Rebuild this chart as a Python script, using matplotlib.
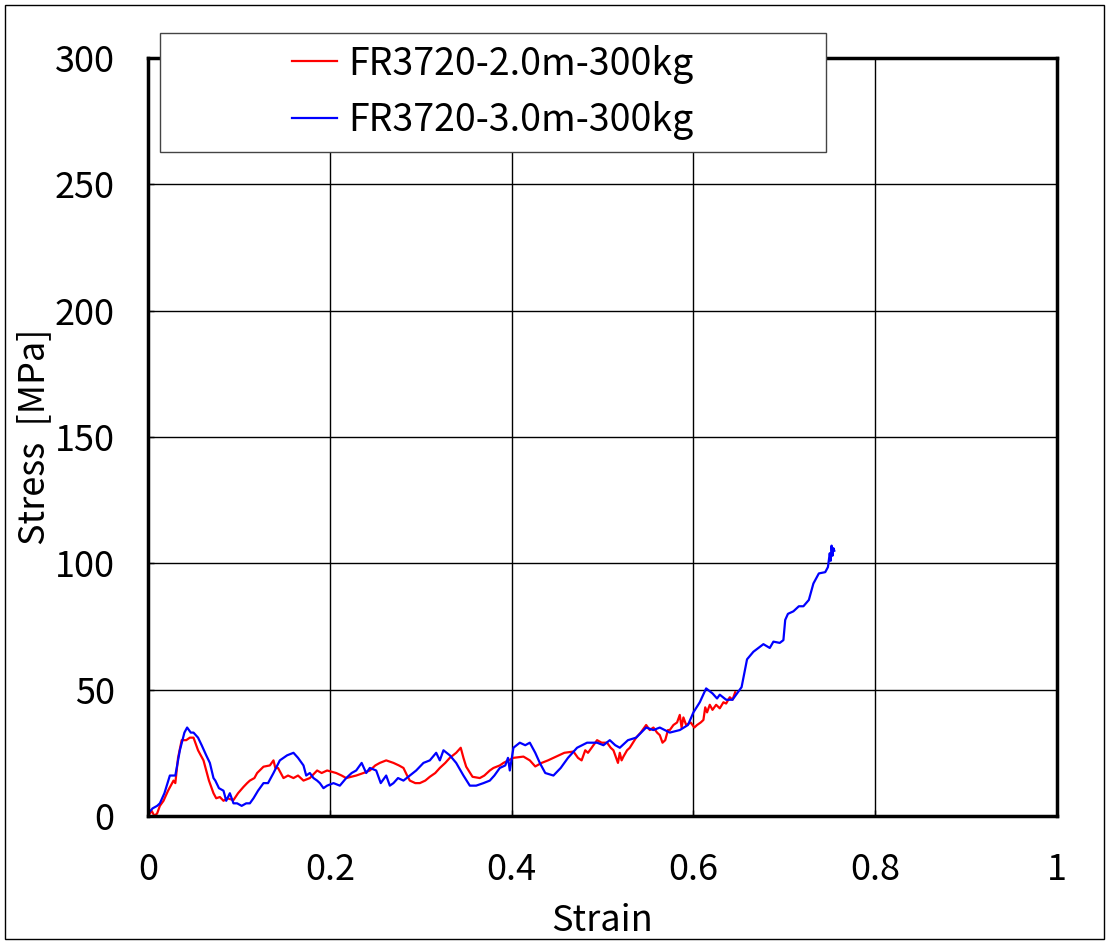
import matplotlib
matplotlib.use("Agg")
import matplotlib.pyplot as plt
from matplotlib.patches import Rectangle

plt.rcParams['font.family'] = ['Noto Sans CJK JP', 'DejaVu Sans']

# stress-strain curves
red_label = 'FR3720-2.0m-300kg'
red_strain = [0.000, 0.004, 0.007, 0.010, 0.013, 0.017, 0.022, 0.028, 0.030, 0.033,
              0.037, 0.042, 0.046, 0.050, 0.055, 0.061, 0.067, 0.072, 0.075, 0.079,
              0.083, 0.087, 0.094, 0.099, 0.105, 0.109, 0.112, 0.117, 0.120, 0.127,
              0.134, 0.138, 0.140, 0.143, 0.149, 0.154, 0.160, 0.165, 0.171, 0.178,
              0.186, 0.191, 0.197, 0.207, 0.213, 0.218, 0.229, 0.237, 0.244, 0.250,
              0.255, 0.262, 0.270, 0.276, 0.281, 0.285, 0.288, 0.294, 0.299, 0.305,
              0.310, 0.316, 0.321, 0.327, 0.332, 0.339, 0.344, 0.347, 0.350, 0.357,
              0.365, 0.370, 0.376, 0.380, 0.387, 0.391, 0.402, 0.413, 0.420, 0.426,
              0.433, 0.440, 0.449, 0.458, 0.468, 0.473, 0.477, 0.481, 0.484, 0.490,
              0.494, 0.499, 0.505, 0.509, 0.512, 0.515, 0.517, 0.519, 0.521, 0.523,
              0.527, 0.530, 0.537, 0.542, 0.548, 0.552, 0.556, 0.560, 0.563, 0.566,
              0.569, 0.572, 0.574, 0.578, 0.582, 0.585, 0.587, 0.589, 0.592, 0.597,
              0.601, 0.604, 0.608, 0.611, 0.613, 0.615, 0.618, 0.621, 0.625, 0.629,
              0.633, 0.636, 0.640, 0.643, 0.646]
red_stress = [0, 2, 0, 1, 4, 6, 10, 14, 13, 23,
              30, 30, 31, 31, 26, 22, 14, 9, 7, 7.5,
              6, 7, 6.3, 9, 11.5, 13, 14, 15, 17, 19.5,
              20, 22, 19, 19, 15, 16, 15, 16, 14, 15,
              18, 17, 18, 17, 16, 15, 16, 17, 18, 20,
              21, 22, 21, 20, 19, 16, 14, 13, 13, 14,
              15.5, 17, 19, 21, 23, 25, 27, 23, 19.5, 15.5,
              15, 16, 18, 19, 20, 21, 23, 23.5, 22, 19.6,
              21, 22, 23.5, 25, 25.5, 23, 22, 26, 25, 28,
              30, 29, 29, 27, 26, 23, 21, 25, 22, 23.5,
              26, 27, 31, 33, 36, 34, 35, 33, 32, 29,
              30, 34, 34, 36, 37, 40, 35, 39, 36, 37,
              35, 36, 37, 38, 43, 41, 44, 42, 44, 42.6,
              45, 44.5, 47, 46, 49]

blue_label = 'FR3720-3.0m-300kg'
blue_strain = [0.000, 0.005, 0.010, 0.013, 0.018, 0.024, 0.030, 0.035, 0.040, 0.043,
               0.047, 0.050, 0.055, 0.059, 0.064, 0.068, 0.072, 0.074, 0.078, 0.083,
               0.086, 0.090, 0.094, 0.098, 0.103, 0.108, 0.112, 0.116, 0.121, 0.127,
               0.132, 0.138, 0.145, 0.153, 0.160, 0.165, 0.171, 0.174, 0.178, 0.182,
               0.186, 0.189, 0.193, 0.197, 0.204, 0.211, 0.218, 0.224, 0.229, 0.235,
               0.240, 0.244, 0.251, 0.256, 0.262, 0.266, 0.270, 0.275, 0.281, 0.288,
               0.295, 0.303, 0.310, 0.317, 0.321, 0.325, 0.332, 0.339, 0.347, 0.354,
               0.361, 0.369, 0.376, 0.381, 0.387, 0.393, 0.396, 0.398, 0.402, 0.409,
               0.415, 0.420, 0.426, 0.431, 0.437, 0.446, 0.454, 0.462, 0.472, 0.483,
               0.494, 0.501, 0.508, 0.514, 0.519, 0.528, 0.537, 0.548, 0.556, 0.563,
               0.574, 0.585, 0.594, 0.600, 0.607, 0.614, 0.621, 0.626, 0.629, 0.636,
               0.643, 0.647, 0.653, 0.659, 0.666, 0.677, 0.684, 0.688, 0.695, 0.699,
               0.701, 0.704, 0.710, 0.716, 0.721, 0.727, 0.732, 0.738, 0.745, 0.748,
               0.750, 0.751, 0.752, 0.753, 0.754, 0.755]
blue_stress = [1, 3, 4, 5, 9, 16, 16, 26, 33, 35,
               33, 33, 31, 28, 24, 21, 15, 14, 11, 10,
               6, 9, 5, 5, 4, 5, 5, 7, 10, 13,
               13, 17, 22, 24, 25, 23, 20, 16, 17, 15,
               14, 13, 11, 12, 13, 12, 15, 17, 18, 21,
               17, 19, 18, 13, 16, 12, 13, 15, 14, 16,
               18, 21, 22, 25, 22, 26, 24, 21, 16, 12,
               12, 13, 14, 16, 19, 20, 23, 18, 27, 29,
               28, 29, 25, 21, 17, 16, 19, 23, 27, 29,
               29, 28, 30, 28, 27, 30, 31, 35, 34, 35,
               33, 34, 36, 41, 45, 50.5, 48.5, 46.5, 48, 46,
               46, 48, 51, 62, 65, 68, 66.5, 69, 68.5, 69.6,
               77.6, 80, 81, 83, 83, 85.5, 92, 96, 96.5, 98.5,
               104, 101, 107, 103, 106, 105]

x_ticks = [0, 0.2, 0.4, 0.6, 0.8, 1]
x_tick_labels = ['0', '0.2', '0.4', '0.6', '0.8', '1']
y_ticks = [0, 50, 100, 150, 200, 250, 300]

fig = plt.figure(figsize=(11.09, 9.42), dpi=100)
ax = fig.add_axes([0.1335, 0.1338, 0.8196, 0.8046])

line1, = ax.plot(red_strain, red_stress, color='#FF0000', linewidth=1.6, label=red_label)
line2, = ax.plot(blue_strain, blue_stress, color='#0000FF', linewidth=1.6, label=blue_label)

ax.set_xlim(0, 1)
ax.set_ylim(0, 300)
ax.set_xticks(x_ticks)
ax.set_xticklabels(x_tick_labels)
ax.set_yticks(y_ticks)
ax.tick_params(direction='in', length=4, width=1, labelsize=26)
ax.tick_params(axis='y', pad=24)
ax.tick_params(axis='x', pad=26)
ax.grid(True, color='black', linewidth=1.0)
ax.set_axisbelow(True)
for s in ax.spines.values():
    s.set_linewidth(2.5)

ax.set_xlabel('Strain', fontsize=26, labelpad=11)
ax.set_ylabel('Stress  [MPa]', fontsize=26, labelpad=2)

# legend box sits over the top spine
fig.patches.append(Rectangle((160/1109, 1-152/942), 666/1109, 119/942,
                             transform=fig.transFigure, facecolor='white',
                             edgecolor='#444444', linewidth=1.0, zorder=5))
leg = fig.legend(handles=[line1, line2], loc='center', frameon=False, fontsize=27,
                 bbox_to_anchor=(160/1109, 1-152/942, 666/1109, 119/942),
                 bbox_transform=fig.transFigure, handlelength=1.2, handletextpad=0.3,
                 labelspacing=0.48)
leg.set_zorder(6)

# thin frame around the whole picture
fig.patches.append(Rectangle((5/1109, 3/942), 1099/1109, 934/942,
                             transform=fig.transFigure, fill=False,
                             edgecolor='black', linewidth=1.0, zorder=1))

fig.savefig('out.png', dpi=100)
